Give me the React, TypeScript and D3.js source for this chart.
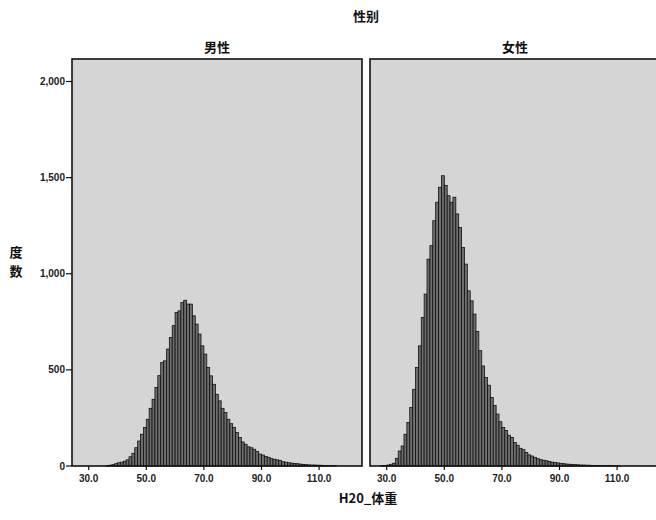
import React from "react";
import * as d3 from "d3";

// ---- data ----
const title = "性别";
const panelNames = ["男性", "女性"];
const yTitle = "度数";
const xTitle = "H20_体重";
const binWidth = 1;
const maleStart = 36;
const maleCounts = [
  2, 4, 7, 12, 17, 20, 25, 32, 48, 66, 95, 130, 165, 200, 243, 300, 347, 408, 470, 538,
  547, 608, 668, 730, 799, 807, 851, 862, 842, 842, 781, 738, 686, 625, 582, 512, 469, 425, 373, 339,
  300, 278, 243, 220, 200, 174, 148, 125, 113, 100, 95, 87, 75, 62, 57, 50, 45, 38, 35, 32,
  28, 22, 20, 17, 15, 13, 12, 10, 8, 7, 6, 5, 5, 4, 4, 3, 3, 2, 2, 1,
];
const femaleStart = 28;
const femaleCounts = [
  2, 3, 5, 9, 14, 40, 78, 104, 165, 226, 304, 399, 512, 625, 773, 894, 1076, 1146, 1276, 1372,
  1450, 1510, 1460, 1406, 1372, 1398, 1311, 1241, 1137, 1050, 911, 859, 790, 700, 600, 520, 460, 420, 356, 315,
  270, 230, 200, 185, 160, 148, 122, 108, 92, 85, 70, 58, 52, 45, 38, 33, 30, 27, 24, 20,
  18, 16, 14, 12, 10, 9, 8, 7, 6, 5, 5, 4, 4, 3, 3, 3, 2, 2, 2, 2, 1, 1, 1,
];
const yTicks = [0, 500, 1000, 1500, 2000];
const xTicks = [30, 50, 70, 90, 110];

// ---- layout ----
const W = 656;
const H = 520;
const panelW = 290;
const panelLeft = [72, 370];
const top = 59;
const bottom = 466;
const xDomain: [number, number] = [24.2, 124.9];

const y = d3.scaleLinear().domain([0, 2000]).range([bottom, 81.5]);
const fmtY = d3.format(",");
const fmtX = d3.format(".1f");

const series = [
  { start: maleStart, counts: maleCounts },
  { start: femaleStart, counts: femaleCounts },
];

const numFont = "'Liberation Sans', Arial, sans-serif";
const cjkFont = "'Noto Sans CJK SC', 'Noto Sans CJK JP', sans-serif";

function Panel({ idx }: { idx: number }) {
  const x0 = panelLeft[idx];
  const x = d3.scaleLinear().domain(xDomain).range([x0, x0 + panelW]);
  const s = series[idx];
  const edges = d3.range(s.counts.length).map((i) => s.start + i * binWidth);
  return (
    <g>
      <rect x={x0} y={top} width={panelW} height={bottom - top} fill="#d5d5d5" />
      {s.counts.map((c, i) => (
        <rect
          key={i}
          x={x(edges[i])}
          y={y(c)}
          width={x(edges[i] + binWidth) - x(edges[i])}
          height={bottom - y(c)}
          fill="#6e6e6e"
          stroke="#111"
          strokeWidth={0.8}
        />
      ))}
      <rect
        x={x0}
        y={top}
        width={panelW}
        height={bottom - top}
        fill="none"
        stroke="#111"
        strokeWidth={1.6}
      />
      {xTicks.map((t) => (
        <g key={t}>
          <line x1={x(t)} x2={x(t)} y1={bottom} y2={bottom + 4} stroke="#111" strokeWidth={1.2} />
          <text
            x={x(t)}
            y={bottom + 16}
            textAnchor="middle"
            fontFamily={numFont}
            fontSize={10}
            fontWeight="bold"
            fill="#222"
          >
            {fmtX(t)}
          </text>
        </g>
      ))}
      <text
        x={x0 + panelW / 2}
        y={52}
        textAnchor="middle"
        fontFamily={cjkFont}
        fontSize={13}
        fontWeight="bold"
        fill="#111"
      >
        {panelNames[idx]}
      </text>
    </g>
  );
}

export default function App() {
  return (
    <svg
      width={W}
      height={H}
      viewBox={`0 0 ${W} ${H}`}
      style={{ position: "absolute", left: 0, top: 0, background: "#fff" }}
    >
      <rect width={W} height={H} fill="#fff" />
      <text x={366} y={21} textAnchor="middle" fontFamily={cjkFont} fontSize={13} fontWeight="bold" fill="#111">
        {title}
      </text>
      <Panel idx={0} />
      <Panel idx={1} />
      {yTicks.map((t) => (
        <g key={t}>
          <line x1={panelLeft[0] - 6} x2={panelLeft[0]} y1={y(t)} y2={y(t)} stroke="#111" strokeWidth={1.2} />
          <text
            x={panelLeft[0] - 7}
            y={y(t) + 3.5}
            textAnchor="end"
            fontFamily={numFont}
            fontSize={10}
            fontWeight="bold"
            fill="#222"
          >
            {fmtY(t)}
          </text>
        </g>
      ))}
      {Array.from(yTitle).map((ch, i) => (
        <text
          key={i}
          x={16}
          y={257 + i * 19}
          textAnchor="middle"
          fontFamily={cjkFont}
          fontSize={13}
          fontWeight="bold"
          fill="#111"
        >
          {ch}
        </text>
      ))}
      <text x={368} y={503} textAnchor="middle" fontFamily={cjkFont} fontSize={13} fontWeight="bold" fill="#111">
        {xTitle}
      </text>
    </svg>
  );
}
